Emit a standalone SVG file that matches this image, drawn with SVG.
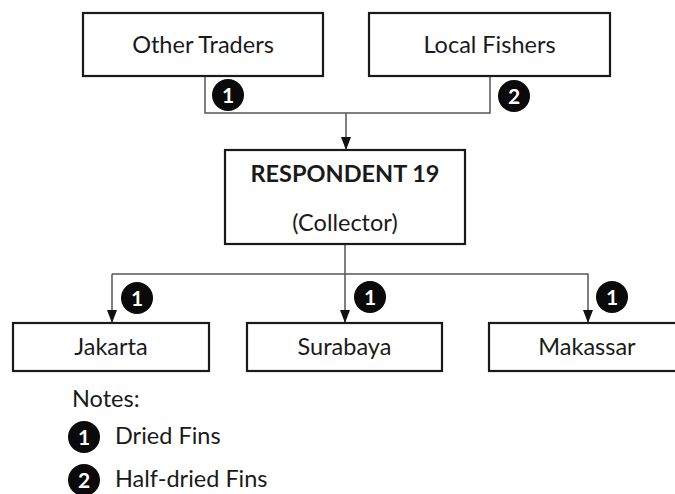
<svg xmlns="http://www.w3.org/2000/svg" width="675" height="494" viewBox="0 0 675 494">
  <defs>
    <marker id="arrow" markerWidth="13" markerHeight="10" refX="13" refY="5" orient="auto" markerUnits="userSpaceOnUse" viewBox="0 0 13 10">
      <path d="M0,0 L13,5 L0,10 Z" fill="#111"/>
    </marker>
    <style>
      .box { fill: #fff; stroke: #1a1a1a; stroke-width: 2.2; }
      .label { font-family: Lato, "Liberation Sans", sans-serif; font-size: 23.5px; fill: #1a1a1a; text-anchor: middle; }
      .bold { font-weight: bold; }
      .wire { fill: none; stroke: #555; stroke-width: 1.5; }
      .badge circle { fill: #0a0a0a; }
      .badge text { font-family: Lato, "Liberation Sans", sans-serif; font-size: 21px; font-weight: bold; fill: #fff; text-anchor: middle; }
      .note { font-family: Lato, "Liberation Sans", sans-serif; font-size: 23.5px; fill: #1a1a1a; }
    </style>
  </defs>
  <rect width="675" height="494" fill="#fff"/>

  <!-- connectors -->
  <g id="connectors">
    <path class="wire" d="M205,76 V113 H490 V76"/>
    <path class="wire" d="M346,113 V150" marker-end="url(#arrow)"/>
    <path class="wire" d="M345,244 V323" marker-end="url(#arrow)"/>
    <path class="wire" d="M112,274 H588 V323" marker-end="url(#arrow)"/>
    <path class="wire" d="M112,274 V323" marker-end="url(#arrow)"/>
  </g>

  <g id="other-traders">
    <rect class="box" x="83" y="13" width="240" height="63"/>
    <text class="label" x="203" y="53">Other Traders</text>
  </g>
  <g id="local-fishers">
    <rect class="box" x="369" y="13" width="241" height="63"/>
    <text class="label" x="489.5" y="53">Local Fishers</text>
  </g>
  <g id="respondent-19">
    <rect class="box" x="225" y="150" width="240" height="94"/>
    <text class="label bold" x="345" y="182">RESPONDENT 19</text>
    <text class="label" x="345" y="231">(Collector)</text>
  </g>
  <g id="jakarta">
    <rect class="box" x="13" y="323" width="196" height="48"/>
    <text class="label" x="111" y="355">Jakarta</text>
  </g>
  <g id="surabaya">
    <rect class="box" x="247" y="323" width="195" height="48"/>
    <text class="label" x="344.5" y="355">Surabaya</text>
  </g>
  <g id="makassar">
    <rect class="box" x="489" y="323" width="196" height="48"/>
    <text class="label" x="587" y="355">Makassar</text>
  </g>

  <!-- product badges on the flows -->
  <g id="badges">
    <g class="badge"><circle cx="228" cy="95" r="16"/><text x="228" y="102.5">1</text></g>
    <g class="badge"><circle cx="514" cy="96" r="16"/><text x="514" y="103.5">2</text></g>
    <g class="badge"><circle cx="137" cy="298" r="16"/><text x="137" y="305.5">1</text></g>
    <g class="badge"><circle cx="370" cy="297" r="16"/><text x="370" y="304.5">1</text></g>
    <g class="badge"><circle cx="612" cy="297" r="16"/><text x="612" y="304.5">1</text></g>
  </g>

  <!-- legend -->
  <g id="notes">
    <text class="note" x="72" y="407">Notes:</text>
    <g class="badge"><circle cx="84" cy="437" r="16"/><text x="84" y="444.5">1</text></g>
    <text class="note" x="115" y="444">Dried Fins</text>
    <g class="badge"><circle cx="84" cy="480" r="16"/><text x="84" y="487.5">2</text></g>
    <text class="note" x="115" y="487">Half-dried Fins</text>
  </g>
</svg>
